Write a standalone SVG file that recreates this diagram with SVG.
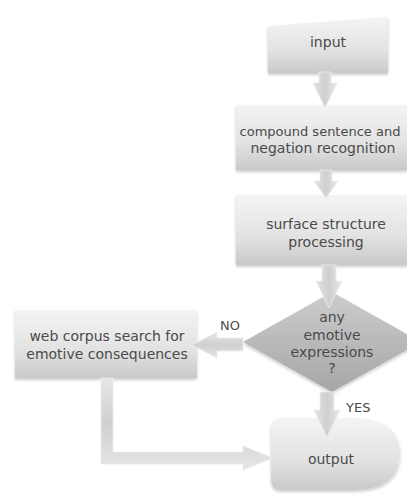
<svg xmlns="http://www.w3.org/2000/svg" width="407" height="494" viewBox="0 0 407 494">
  <defs>
    <linearGradient id="boxGrad" x1="0" y1="0" x2="0" y2="1">
      <stop offset="0" stop-color="#f4f4f4"/>
      <stop offset="0.6" stop-color="#e2e2e2"/>
      <stop offset="1" stop-color="#c9c9c9"/>
    </linearGradient>
    <linearGradient id="diaGrad" x1="0" y1="0" x2="0" y2="1">
      <stop offset="0" stop-color="#cdcdcd"/>
      <stop offset="1" stop-color="#a6a6a6"/>
    </linearGradient>
    <linearGradient id="arrV" x1="0" y1="0" x2="1" y2="0">
      <stop offset="0" stop-color="#e4e4e4"/>
      <stop offset="0.5" stop-color="#cfcfcf"/>
      <stop offset="1" stop-color="#e8e8e8"/>
    </linearGradient>
    <linearGradient id="arrH" x1="0" y1="0" x2="0" y2="1">
      <stop offset="0" stop-color="#e6e6e6"/>
      <stop offset="0.5" stop-color="#d0d0d0"/>
      <stop offset="1" stop-color="#e6e6e6"/>
    </linearGradient>
    <filter id="shadow" x="-10%" y="-10%" width="120%" height="130%">
      <feDropShadow dx="0" dy="2" stdDeviation="1.5" flood-color="#000" flood-opacity="0.2"/>
    </filter>
  </defs>
  <style>
    .box { fill: url(#boxGrad); filter: url(#shadow); }
    .dia { fill: url(#diaGrad); filter: url(#shadow); }
    .av { fill: url(#arrV); stroke: #ececec; stroke-width: 0.8; }
    .ah { fill: url(#arrH); stroke: #ececec; stroke-width: 0.8; }
    text { font-family: "DejaVu Sans", "Liberation Sans", sans-serif; font-size: 14px; fill: #4a4a4a; text-anchor: middle; }
    .lbl { font-size: 13px; text-anchor: start; }
    .fit { font-size: 13px; }
  </style>

  <g id="node-input">
    <polygon class="box" points="268,26 388,17 388,73 268,73"/>
    <text x="328" y="47">input</text>
  </g>
  <g id="node-compound">
    <rect class="box" x="236" y="105" width="171" height="65"/>
    <text class="fit" x="320" y="136">compound sentence and</text>
    <text x="323" y="153">negation recognition</text>
  </g>
  <g id="node-surface">
    <rect class="box" x="236" y="195" width="171" height="70"/>
    <text x="326" y="229">surface structure</text>
    <text x="326" y="247">processing</text>
  </g>
  <g id="node-decision">
    <polygon class="dia" points="332,292 421,342 332,392 243,342"/>
    <text x="332" y="322">any</text>
    <text x="332" y="340">emotive</text>
    <text x="332" y="357">expressions</text>
    <text x="332" y="373">?</text>
  </g>
  <g id="node-web">
    <rect class="box" x="15" y="310" width="182" height="68"/>
    <text x="107" y="341">web corpus search for</text>
    <text x="107" y="359">emotive consequences</text>
  </g>
  <g id="node-output">
    <path class="box" d="M281,418 L352,418 Q400,418 400,454 Q400,490 352,490 L281,490 Q271,490 271,480 L271,428 Q271,418 281,418 Z"/>
    <text x="331" y="464">output</text>
  </g>

  <g id="connectors">
    <polygon class="av" points="319,72 331,72 331,83 337,83 325,108 313,83 319,83"/>
    <polygon class="av" points="320,170 332,170 332,181 338,181 326,198 314,181 320,181"/>
    <polygon class="av" points="322,265 336,265 336,281 342,281 329,308 316,281 322,281"/>
    <polygon class="av" points="320,392 334,392 334,410 340,410 327,437 314,410 320,410"/>
    <polygon class="ah" points="243,338 217,338 217,332 192,345 217,358 217,351 243,351"/>
    <polygon class="ah" points="101,378 113,378 113,452 243,452 243,446 273,458 243,470 243,464 101,464"/>
    <text class="lbl" x="220" y="330">NO</text>
    <text class="lbl" x="346" y="412">YES</text>
  </g>
</svg>
